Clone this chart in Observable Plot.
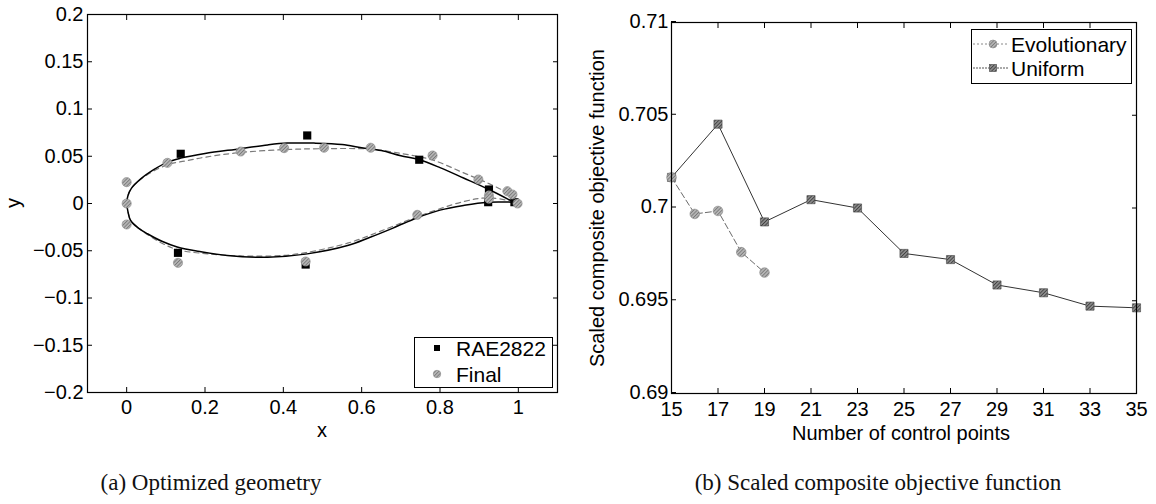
<!DOCTYPE html>
<html>
<head>
<meta charset="utf-8">
<script src="https://cdn.jsdelivr.net/npm/d3@7"></script>
<script src="https://cdn.jsdelivr.net/npm/@observablehq/plot@0.6"></script>
<style>
  html, body { margin: 0; padding: 0; background: #fff; }
  #page { position: relative; width: 1156px; height: 504px; overflow: hidden; font-family: "Liberation Sans", Arial, sans-serif; }
  .lbl { position: absolute; font-size: 20px; color: #000; white-space: nowrap; transform: translate(-50%, -50%); line-height: 1; }
  .rot { transform: translate(-50%, -50%) rotate(-90deg); }
  .cap { position: absolute; font-family: "Liberation Serif", "DejaVu Serif", serif; font-size: 23px; white-space: nowrap; transform: translate(-50%, -50%); color: #111; line-height: 1; }
  .legend { position: absolute; border: 1px solid #000; background: #fff; box-sizing: border-box; }
  .legend .txt { position: absolute; font-size: 21px; line-height: 1; transform: translateY(-50%); white-space: nowrap; }
  .legend svg { position: absolute; overflow: visible; }
</style>
</head>
<body>
<svg width="0" height="0" style="position:absolute">
  <defs>
    <pattern id="hatchLight" patternUnits="userSpaceOnUse" width="2.5" height="2.5" patternTransform="rotate(45)">
      <rect width="2.5" height="2.5" fill="#b4b4b4"/>
      <line x1="0" y1="0" x2="0" y2="2.5" stroke="#5a5a5a" stroke-width="1.1"/>
    </pattern>
    <pattern id="hatchDark" patternUnits="userSpaceOnUse" width="2.5" height="2.5" patternTransform="rotate(45)">
      <rect width="2.5" height="2.5" fill="#8a8a8a"/>
      <line x1="0" y1="0" x2="0" y2="2.5" stroke="#222" stroke-width="1.2"/>
    </pattern>
  </defs>
</svg>
<div id="page"></div>
<script>
// ---------- (a) Optimized geometry ----------
const raeUpperX = [0, 0.003, 0.012, 0.036, 0.07, 0.104, 0.138, 0.2, 0.291, 0.36, 0.41, 0.478, 0.55, 0.6, 0.65, 0.70, 0.747, 0.80, 0.86, 0.925, 0.99];
const raeUpperY = [0, 0.008, 0.016, 0.026, 0.036, 0.0438, 0.048, 0.053, 0.058, 0.062, 0.0639, 0.0639, 0.0625, 0.059, 0.056, 0.0505, 0.0463, 0.038, 0.027, 0.0148, 0.001];
const raeLowerX = [0, 0.003, 0.01, 0.03, 0.053, 0.09, 0.129, 0.19, 0.257, 0.36, 0.461, 0.564, 0.62, 0.68, 0.742, 0.80, 0.86, 0.921, 0.99];
const raeLowerY = [0, -0.008, -0.018, -0.026, -0.032, -0.040, -0.046, -0.051, -0.055, -0.0569, -0.0533, -0.0445, -0.036, -0.026, -0.015, -0.007, -0.002, 0.0014, 0.0014];
const finUpperX = [0, 0.003, 0.012, 0.04, 0.104, 0.15, 0.2, 0.291, 0.402, 0.5, 0.623, 0.7, 0.781, 0.857, 0.925, 0.972, 1.0];
const finUpperY = [0, 0.008, 0.016, 0.027, 0.041, 0.045, 0.049, 0.054, 0.057, 0.058, 0.0575, 0.053, 0.046, 0.033, 0.021, 0.011, 0.001];
const finLowerX = [0, 0.003, 0.012, 0.04, 0.09, 0.131, 0.2, 0.291, 0.4, 0.457, 0.564, 0.65, 0.742, 0.86, 0.925, 1.0];
const finLowerY = [0, -0.008, -0.019, -0.029, -0.042, -0.049, -0.053, -0.0555, -0.055, -0.052, -0.042, -0.029, -0.014, 0.002, 0.006, 0.001];
const raeCtrlX = [0.138, 0.461, 0.747, 0.925, 0.131, 0.457, 0.923, 0.99];
const raeCtrlY = [0.0526, 0.072, 0.0463, 0.0148, -0.0522, -0.0646, 0.0014, 0.0014];
const finCtrlX = [0, 0, 0, 0.104, 0.291, 0.402, 0.504, 0.623, 0.781, 0.898, 0.925, 0.972, 0.985, 0.998, 0.131, 0.457, 0.742, 0.925];
const finCtrlY = [0.0226, 0, -0.0222, 0.043, 0.055, 0.0586, 0.059, 0.059, 0.0508, 0.0254, 0.0085, 0.013, 0.0095, 0.0, -0.0628, -0.0614, -0.012, 0.005];
const leftXTicks = [0, 0.2, 0.4, 0.6, 0.8, 1];
const leftXLabels = ["0", "0.2", "0.4", "0.6", "0.8", "1"];
const leftYTicks = [-0.2, -0.15, -0.1, -0.05, 0, 0.05, 0.1, 0.15, 0.2];
const leftYLabels = ["\u22120.2", "\u22120.15", "\u22120.1", "\u22120.05", "0", "0.05", "0.1", "0.15", "0.2"];

// ---------- (b) Scaled composite objective function ----------
const uniformX = [15, 17, 19, 21, 23, 25, 27, 29, 31, 33, 35];
const uniformY = [0.70165, 0.70452, 0.69925, 0.70045, 0.70000, 0.69755, 0.69722, 0.69585, 0.69543, 0.69471, 0.69462];
const evoX = [15, 16, 17, 18, 19];
const evoY = [0.70165, 0.69968, 0.69984, 0.69762, 0.69652];
const rightXTicks = [15, 17, 19, 21, 23, 25, 27, 29, 31, 33, 35];
const rightYTicks = [0.69, 0.695, 0.7, 0.705, 0.71];
const rightYLabels = ["0.69", "0.695", "0.7", "0.705", "0.71"];

const page = document.getElementById("page");
const zip = (xs, ys, extra) => xs.map((x, i) => Object.assign({x, y: ys[i]}, extra));

const raeCurve = [...zip(raeUpperX, raeUpperY, {s: "u"}), ...zip(raeLowerX, raeLowerY, {s: "l"})];
const finCurve = [...zip(finUpperX, finUpperY, {s: "u"}), ...zip(finLowerX, finLowerY, {s: "l"})];
const raePts = zip(raeCtrlX, raeCtrlY);
const finPts = zip(finCtrlX, finCtrlY);

const fontStyle = {fontFamily: "Liberation Sans, Arial, sans-serif", fontSize: "20px", color: "#000", background: "transparent", overflow: "visible"};

const left = Plot.plot({
  width: 570, height: 440,
  marginLeft: 87, marginRight: 13, marginTop: 14, marginBottom: 48,
  style: fontStyle,
  x: {domain: [-0.1, 1.1]},
  y: {domain: [-0.2, 0.2]},
  marks: [
    Plot.axisX(leftXTicks, {anchor: "bottom", tickSize: -5, tickPadding: 12, tickFormat: d => leftXLabels[leftXTicks.indexOf(d)], label: null}),
    Plot.axisX(leftXTicks, {anchor: "top", tickSize: -5, tickFormat: () => null, label: null}),
    Plot.axisY(leftYTicks, {anchor: "left", tickSize: -5, tickPadding: 9, tickFormat: d => leftYLabels[leftYTicks.indexOf(d)], label: null}),
    Plot.axisY(leftYTicks, {anchor: "right", tickSize: -5, tickFormat: () => null, label: null}),
    Plot.line(finCurve, {x: "x", y: "y", z: "s", curve: "catmull-rom", stroke: "#7a7a7a", strokeWidth: 1.2, strokeDasharray: "5,4"}),
    Plot.line(raeCurve, {x: "x", y: "y", z: "s", curve: "catmull-rom", stroke: "#000", strokeWidth: 1.5}),
    Plot.dot(raePts, {x: "x", y: "y", symbol: "square", r: 4.6, fill: "#000", stroke: "none"}),
    Plot.dot(finPts, {x: "x", y: "y", symbol: "circle", r: 4.6, fill: "url(#hatchLight)", stroke: "#8a8a8a", strokeWidth: 0.6}),
    Plot.frame({stroke: "#000", strokeWidth: 1.2})
  ]
});
left.style.position = "absolute"; left.style.left = "0px"; left.style.top = "0px";
page.appendChild(left);

const uniPts = zip(uniformX, uniformY);
const evoPts = zip(evoX, evoY);

const right = Plot.plot({
  width: 586, height: 440,
  marginLeft: 101, marginRight: 20, marginTop: 22, marginBottom: 47,
  style: fontStyle,
  x: {domain: [15, 35]},
  y: {domain: [0.69, 0.71]},
  marks: [
    Plot.axisX(rightXTicks, {anchor: "bottom", tickSize: -5, tickPadding: 13, tickFormat: d => String(d), label: null}),
    Plot.axisX(rightXTicks, {anchor: "top", tickSize: -5, tickFormat: () => null, label: null}),
    Plot.axisY(rightYTicks, {anchor: "left", tickSize: -5, tickPadding: 8, dy: -1, tickFormat: d => rightYLabels[rightYTicks.indexOf(d)], label: null}),
    Plot.axisY(rightYTicks, {anchor: "right", tickSize: -5, tickFormat: () => null, label: null}),
    Plot.line(evoPts, {x: "x", y: "y", stroke: "#6a6a6a", strokeWidth: 1, strokeDasharray: "6,3"}),
    Plot.line(uniPts, {x: "x", y: "y", stroke: "#333", strokeWidth: 1}),
    Plot.dot(uniPts, {x: "x", y: "y", symbol: "square", r: 4.6, fill: "url(#hatchDark)", stroke: "#444", strokeWidth: 0.6}),
    Plot.dot(evoPts, {x: "x", y: "y", symbol: "circle", r: 4.8, fill: "url(#hatchLight)", stroke: "#888", strokeWidth: 0.6}),
    Plot.frame({stroke: "#000", strokeWidth: 1.2})
  ]
});
right.style.position = "absolute"; right.style.left = "570px"; right.style.top = "0px";
page.appendChild(right);

// Axis titles and captions
function addText(cls, text, x, y) {
  const d = document.createElement("div");
  d.className = cls; d.textContent = text;
  d.style.left = x + "px"; d.style.top = y + "px";
  page.appendChild(d);
  return d;
}
addText("lbl", "x", 322, 430);
addText("lbl rot", "y", 13, 203);
addText("lbl", "Number of control points", 901, 433);
addText("lbl rot", "Scaled composite objective function", 597, 208);
addText("cap", "(a) Optimized geometry", 211, 482);
addText("cap", "(b) Scaled composite objective function", 878, 482);

// Legends (positions relative to the box)
const ns = "http://www.w3.org/2000/svg";
function legend(x, y, w, h, items) {
  const box = document.createElement("div");
  box.className = "legend";
  Object.assign(box.style, {left: x + "px", top: y + "px", width: w + "px", height: h + "px"});
  for (const it of items) {
    const s = document.createElementNS(ns, "svg");
    s.setAttribute("width", w); s.setAttribute("height", h);
    s.style.left = "0px"; s.style.top = "0px";
    if (it.line) {
      const l = document.createElementNS(ns, "line");
      l.setAttribute("x1", it.lx1); l.setAttribute("x2", it.lx2); l.setAttribute("y1", it.ry); l.setAttribute("y2", it.ry);
      l.setAttribute("stroke", it.line); l.setAttribute("stroke-width", 1);
      if (it.dash) l.setAttribute("stroke-dasharray", it.dash);
      s.appendChild(l);
    }
    let m;
    if (it.shape === "square") {
      m = document.createElementNS(ns, "rect");
      m.setAttribute("x", it.mx - it.ms / 2); m.setAttribute("y", it.ry - it.ms / 2);
      m.setAttribute("width", it.ms); m.setAttribute("height", it.ms);
    } else {
      m = document.createElementNS(ns, "circle");
      m.setAttribute("cx", it.mx); m.setAttribute("cy", it.ry); m.setAttribute("r", it.ms / 2);
    }
    m.setAttribute("fill", it.fill); m.setAttribute("stroke", it.stroke); m.setAttribute("stroke-width", 0.6);
    s.appendChild(m);
    box.appendChild(s);
    const t = document.createElement("div");
    t.className = "txt"; t.textContent = it.label;
    t.style.left = it.tx + "px"; t.style.top = it.ry + "px";
    box.appendChild(t);
  }
  page.appendChild(box);
}
legend(414, 337, 139, 51, [
  {label: "RAE2822", shape: "square", fill: "#000", stroke: "none", mx: 22, ms: 6, ry: 10, tx: 41},
  {label: "Final", shape: "circle", fill: "url(#hatchLight)", stroke: "#8a8a8a", mx: 22, ms: 7.5, ry: 36, tx: 41}
]);
legend(971, 29, 161, 55, [
  {label: "Evolutionary", shape: "circle", fill: "url(#hatchLight)", stroke: "#888", line: "#888", dash: "2,2", lx1: 1, lx2: 37, mx: 21, ms: 8, ry: 14, tx: 39},
  {label: "Uniform", shape: "square", fill: "url(#hatchDark)", stroke: "#444", line: "#555", dash: "2,1", lx1: 1, lx2: 37, mx: 21, ms: 7, ry: 38, tx: 39}
]);
</script>
</body>
</html>
